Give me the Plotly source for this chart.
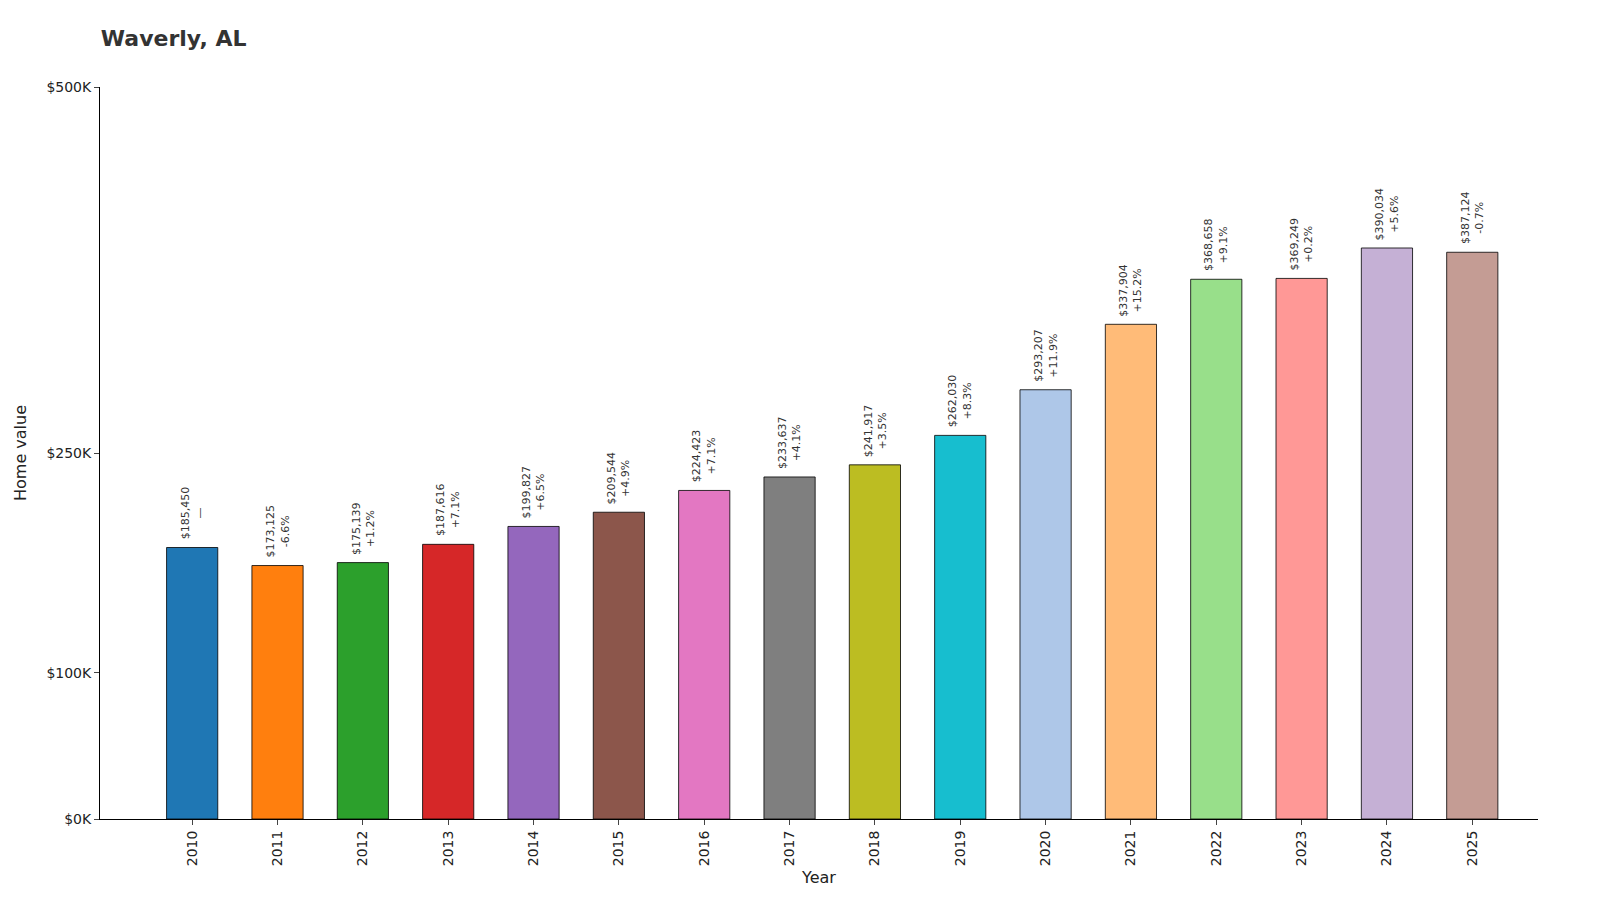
import plotly.graph_objects as go

years = [str(y) for y in range(2010, 2026)]
values = [185450, 173125, 175139, 187616, 199827, 209544, 224423, 233637,
          241917, 262030, 293207, 337904, 368658, 369249, 390034, 387124]
changes = ["—", "-6.6%", "+1.2%", "+7.1%", "+6.5%", "+4.9%", "+7.1%", "+4.1%",
           "+3.5%", "+8.3%", "+11.9%", "+15.2%", "+9.1%", "+0.2%", "+5.6%", "-0.7%"]
colors = ["#1f77b4", "#ff7f0e", "#2ca02c", "#d62728", "#9467bd", "#8c564b",
          "#e377c2", "#7f7f7f", "#bcbd22", "#17becf", "#aec7e8", "#ffbb78",
          "#98df8a", "#ff9896", "#c5b0d5", "#c49c94"]
tick_vals = [0, 100000, 250000, 500000]
tick_text = ["$0K", "$100K", "$250K", "$500K"]

fig = go.Figure(go.Bar(
    x=list(range(len(years))), y=values, width=0.6,
    marker=dict(color=colors, line=dict(color="black", width=0.8)),
))

for i, (v, c) in enumerate(zip(values, changes)):
    fig.add_annotation(x=i, y=v, text=f"${v:,}<br>{c}", textangle=-90,
                       showarrow=False, yanchor="bottom", yshift=6,
                       font=dict(size=11, color="#333"))

fig.update_layout(
    width=1600, height=911, plot_bgcolor="white", paper_bgcolor="white",
    font=dict(family="DejaVu Sans", color="#222"),
    title=dict(text="<b>Waverly, AL</b>", x=0.058, xanchor="left", y=0.975,
               font=dict(size=22, color="#333")),
    margin=dict(l=92, r=70, t=79, b=100),
    showlegend=False,
    xaxis=dict(range=[-1.08, 15.77], tickvals=list(range(len(years))),
               ticktext=years, tickangle=-90, showline=True, linecolor="black",
               ticks="outside", showgrid=False, tickfont=dict(size=14),
               title=dict(text="Year", font=dict(size=16), standoff=6)),
    yaxis=dict(range=[0, 500000], tickvals=tick_vals, ticktext=tick_text,
               showline=True, linecolor="black", ticks="outside",
               showgrid=False, zeroline=False, tickfont=dict(size=14),
               title=dict(text="Home value", font=dict(size=16))),
)

fig.write_html("out.html")
